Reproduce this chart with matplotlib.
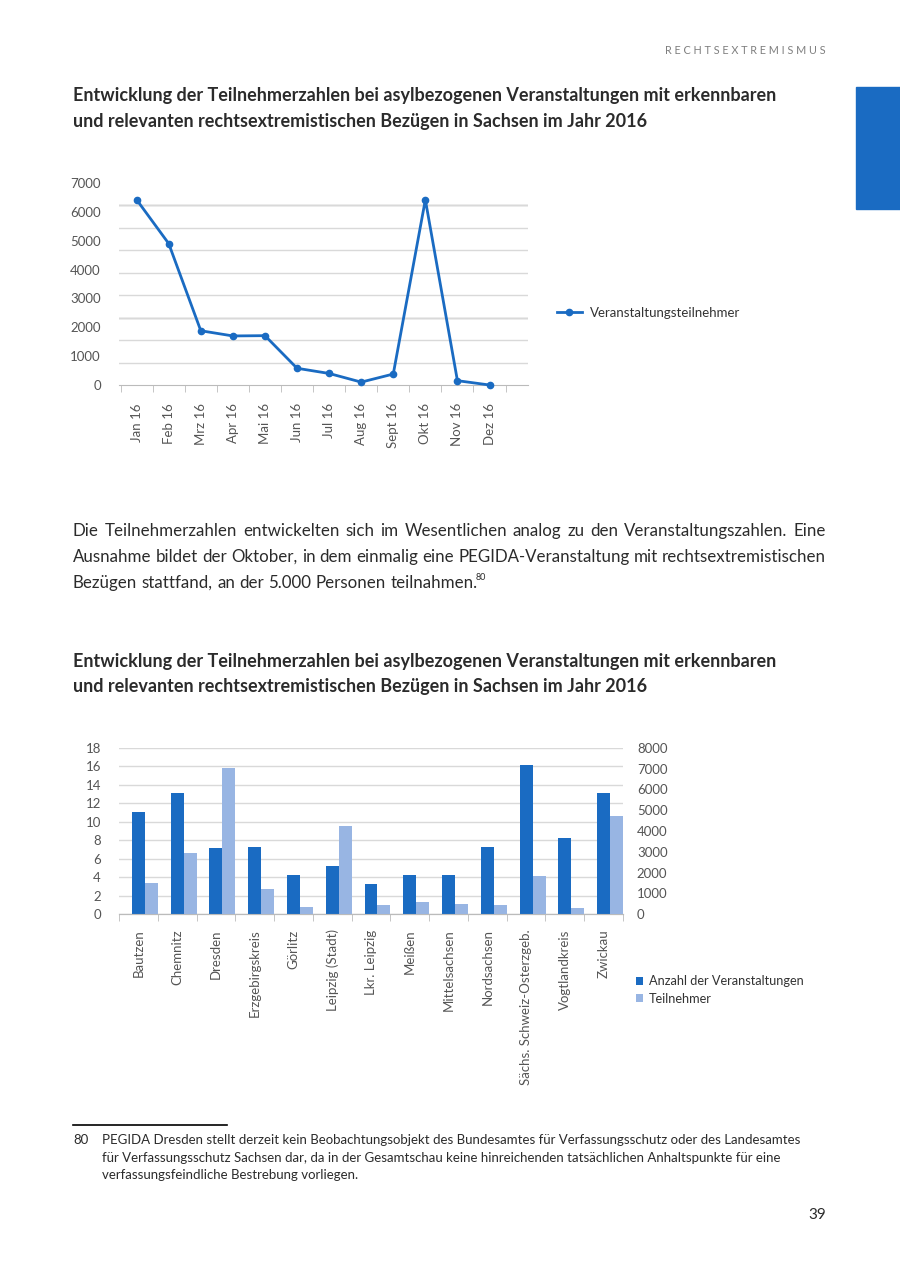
import numpy as np
import matplotlib
matplotlib.use("Agg")
import matplotlib.pyplot as plt
from matplotlib.patches import Rectangle
from matplotlib.lines import Line2D

plt.rcParams['font.family'] = ['Lato', 'DejaVu Sans']

# ===============================
# data
# ===============================
months = ["Jan 16", "Feb 16", "Mrz 16", "Apr 16", "Mai 16", "Jun 16",
          "Jul 16", "Aug 16", "Sept 16", "Okt 16", "Nov 16", "Dez 16"]
teilnehmer_monat = [6420, 4900, 1880, 1700, 1710, 580, 400, 100, 380, 6420, 150, 0]

kreise = ["Bautzen", "Chemnitz", "Dresden", "Erzgebirgskreis", "Görlitz",
          "Leipzig (Stadt)", "Lkr. Leipzig", "Meißen", "Mittelsachsen",
          "Nordsachsen", "Sächs. Schweiz-Osterzgeb.", "Vogtlandkreis", "Zwickau"]
anzahl = [11.1, 13.1, 7.2, 7.3, 4.2, 5.2, 3.2, 4.2, 4.2, 7.3, 16.2, 8.2, 13.1]
teilnehmer_kreis = [1470, 2930, 7050, 1200, 340, 4220, 420, 590, 480, 420, 1810, 290, 4700]

TITLE = ["Entwicklung der Teilnehmerzahlen bei asylbezogenen Veranstaltungen mit erkennbaren",
         "und relevanten rechtsextremistischen Bezügen in Sachsen im Jahr 2016"]
PARA = ["Die Teilnehmerzahlen entwickelten sich im Wesentlichen analog zu den Veranstaltungszahlen. Eine",
        "Ausnahme bildet der Oktober, in dem einmalig eine PEGIDA-Veranstaltung mit rechtsextremistischen",
        "Bezügen stattfand, an der 5.000 Personen teilnahmen."]
FOOT = ["PEGIDA Dresden stellt derzeit kein Beobachtungsobjekt des Bundesamtes für Verfassungsschutz oder des Landesamtes",
        "für Verfassungsschutz Sachsen dar, da in der Gesamtschau keine hinreichenden tatsächlichen Anhaltspunkte für eine",
        "verfassungsfeindliche Bestrebung vorliegen."]

W, H = 900, 1276
BLUE = "#1a6bc2"
LIGHT = "#98b5e3"
GRID = "#d9d9d9"
TXT = "#2b2b2b"
TICK = "#555555"
FS = 9.5

fig = plt.figure(figsize=(W / 100, H / 100), dpi=100)


def fx(x):
    return x / W


def fy(y):
    return 1 - y / H


def ax_rect(x0, y0, x1, y1):
    return [fx(x0), fy(y1), fx(x1) - fx(x0), (y1 - y0) / H]


# ===============================
# page decoration
# ===============================
fig.text(fx(826), fy(50), "R E C H T S E X T R E M I S M U S", ha="right", va="center",
         fontsize=7.8, color="#7f7f7f")
fig.patches.append(Rectangle((fx(856), fy(209)), fx(900) - fx(856), (209 - 87) / H,
                             transform=fig.transFigure, color=BLUE, zorder=0))

for i, line in enumerate(TITLE):
    fig.text(fx(73), fy(96 + 26 * i), line, ha="left", va="center",
             fontsize=13, fontweight="bold", color=TXT)
for i, line in enumerate(TITLE):
    fig.text(fx(73), fy(661 + 26 * i), line, ha="left", va="center",
             fontsize=13, fontweight="bold", color=TXT)

# ===============================
# line chart
# ===============================
ax1 = fig.add_axes(ax_rect(119, 183, 528, 385))
x = np.arange(len(months))
ax1.plot(x, teilnehmer_monat, color=BLUE, lw=2, marker="o", ms=4.5,
         label="Veranstaltungsteilnehmer", zorder=3, clip_on=False)
ax1.set_xlim(-0.55, 12.2)
ax1.set_ylim(0, 7000)
ax1.set_yticks(np.arange(0, 7001, 1000))
ax1.set_yticks(np.linspace(0, 7000, 10), minor=True)
ax1.set_xticks(x)
ax1.set_xticklabels(months, rotation=90, fontsize=FS, color=TICK)
ax1.set_xticks(np.arange(-0.5, 12, 1), minor=True)
ax1.tick_params(axis="y", which="major", length=0, pad=13, labelsize=FS, labelcolor=TICK)
ax1.tick_params(axis="y", which="minor", length=0)
ax1.tick_params(axis="x", which="major", length=0, pad=13)
ax1.tick_params(axis="x", which="minor", length=5, color="#bbbbbb", direction="out")
ax1.grid(axis="y", which="minor", color=GRID, lw=1)
for k in (3, 8):
    ax1.axhline(7000 / 9 * k, color="#b5b5b5", lw=1, zorder=1)
for s in ("left", "right", "top"):
    ax1.spines[s].set_visible(False)
ax1.spines["bottom"].set_color("#bbbbbb")
ax1.legend(loc="center left", bbox_to_anchor=(fx(545), fy(313)), bbox_transform=fig.transFigure,
           frameon=False, fontsize=FS, handlelength=1.9, handletextpad=0.6, labelcolor="#333333")

# ===============================
# paragraph (justified)
# ===============================
renderer = fig.canvas.get_renderer()
PS = 12.2


def word_width(w):
    t = fig.text(0, 0, w, fontsize=PS)
    wd = t.get_window_extent(renderer).width
    t.remove()
    return wd


def justified(line, y, x0, x1, last=False):
    words = line.split()
    widths = [word_width(w) for w in words]
    if last:
        gap = word_width("a a") - word_width("aa")
    else:
        gap = (x1 - x0 - sum(widths)) / (len(words) - 1)
    pos = x0
    for w, wd in zip(words, widths):
        fig.text(fx(pos), fy(y), w, ha="left", va="center", fontsize=PS, color=TXT)
        pos += wd + gap
    return pos - gap


end = 0
for i, line in enumerate(PARA):
    end = justified(line, 531 + 26 * i, 73, 826, last=(i == len(PARA) - 1))
fig.text(fx(end - 1.5), fy(578), "80", ha="left", va="center", fontsize=6.5, color=TXT)

# ===============================
# bar chart
# ===============================
ax2 = fig.add_axes(ax_rect(119, 748, 623, 914))
ax3 = ax2.twinx()
xb = np.arange(len(kreise))
ax2.bar(xb + 0.5, anzahl, width=0.335, color=BLUE, label="Anzahl der Veranstaltungen", zorder=3)
ax3.bar(xb + 0.835, teilnehmer_kreis, width=0.335, color=LIGHT, label="Teilnehmer", zorder=3)
ax2.set_xlim(0, 13)
ax2.set_ylim(0, 18)
ax3.set_ylim(0, 8000)
ax2.set_yticks(np.arange(0, 19, 2))
ax3.set_yticks(np.arange(0, 8001, 1000))
ax2.set_xticks(xb + 0.5)
ax2.set_xticklabels(kreise, rotation=90, fontsize=FS, color=TICK)
ax2.set_xticks(np.arange(0, 14, 1), minor=True)
ax2.tick_params(axis="x", which="major", length=0, pad=11)
ax2.tick_params(axis="x", which="minor", length=5, color="#bbbbbb")
ax2.tick_params(axis="y", length=0, pad=13, labelsize=FS, labelcolor=TICK)
ax3.tick_params(axis="y", length=0, pad=10, labelsize=FS, labelcolor=TICK)
ax2.grid(axis="y", color=GRID, lw=1, zorder=0)
ax2.set_axisbelow(True)
for a in (ax2, ax3):
    for s in ("left", "right", "top"):
        a.spines[s].set_visible(False)
    a.spines["bottom"].set_color("#bbbbbb")
h1, l1 = ax2.get_legend_handles_labels()
h2, l2 = ax3.get_legend_handles_labels()
fig.legend(h1 + h2, l1 + l2, loc="center left", bbox_to_anchor=(fx(624), fy(990)),
           frameon=False, fontsize=9.2, handlelength=0.6, handleheight=0.6,
           labelspacing=0.45, handletextpad=0.45, labelcolor="#333333")

# ===============================
# footnote and page number
# ===============================
fig.add_artist(Line2D([fx(73), fx(227)], [fy(1125), fy(1125)], color="black", lw=1.2))
fig.text(fx(73), fy(1140), "80", ha="left", va="center", fontsize=9.5, color=TXT)
for i, line in enumerate(FOOT):
    fig.text(fx(102), fy(1140 + 17.5 * i), line, ha="left", va="center", fontsize=9.5, color=TXT)
fig.text(fx(826), fy(1215), "39", ha="right", va="center", fontsize=11, color=TXT)

fig.savefig("out.png", dpi=100)
